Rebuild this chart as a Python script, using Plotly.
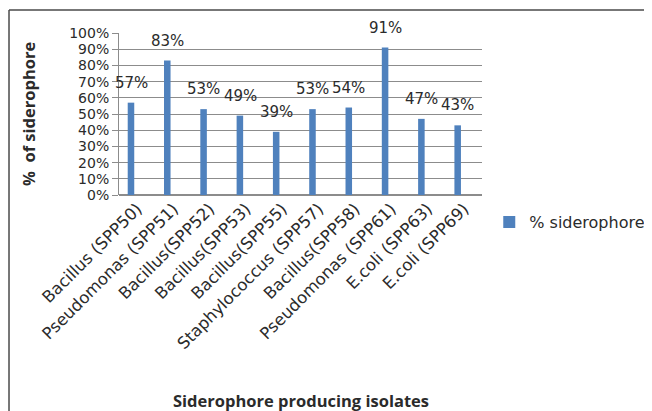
import plotly.graph_objects as go

categories = ["Bacillus (SPP50)", "Pseudomonas (SPP51)", "Bacillus(SPP52)", "Bacillus(SPP53)",
              "Bacillus(SPP55)", "Staphylococcus (SPP57)", "Bacillus(SPP58)", "Pseudomonas (SPP61)",
              "E.coli (SPP63)", "E.coli (SPP69)"]
siderophore = [0.57, 0.83, 0.53, 0.49, 0.39, 0.53, 0.54, 0.91, 0.47, 0.43]
series_name = "% siderophore"

FONT = "DejaVu Sans, sans-serif"
TFONT = "Open Sans, sans-serif"
TXT = "#2b2b2b"
BAR = "#4F81BD"
GRID = "#8c8c8c"

fig = go.Figure()
fig.add_trace(go.Bar(
    x=categories, y=siderophore, name=series_name,
    marker=dict(color=BAR, line=dict(width=0)),
    width=0.18, offset=-0.26,
    showlegend=True,
))

annotations = []
for c, v in zip(categories, siderophore):
    annotations.append(dict(
        x=c, y=v, xref="x", yref="y", text=f"{round(v*100)}%",
        showarrow=False, yanchor="middle", xanchor="center",
        yshift=20, xshift=-6, font=dict(family=FONT, size=15, color=TXT)))

annotations.append(dict(
    x=0, y=0.5, xref="paper", yref="paper", text="<b>%\u00a0 of siderophore</b>",
    textangle=-90, showarrow=False, xanchor="center", yanchor="middle",
    xshift=-91, font=dict(family=TFONT, size=16.5, color=TXT)))
annotations.append(dict(
    x=0.501, y=0, xref="paper", yref="paper", text="<b>Siderophore producing isolates</b>",
    showarrow=False, xanchor="center", yanchor="middle",
    yshift=-205, font=dict(family=TFONT, size=16.5, color=TXT)))

shapes = [
    dict(type="line", xref="paper", yref="paper", x0=-0.303, x1=-0.303, y0=1.142, y1=-1.4,
         line=dict(color="#4a4a4a", width=1.5)),
    dict(type="line", xref="paper", yref="paper", x0=-0.303, x1=1.5, y0=1.142, y1=1.142,
         line=dict(color="#4a4a4a", width=1.5)),
]

# page body has an 8px margin, so the figure is sized/offset to compensate
fig.update_layout(
    width=644, height=403,
    margin=dict(l=111, r=170, t=25, b=216, autoexpand=False),
    paper_bgcolor="white", plot_bgcolor="white",
    font=dict(family=FONT, size=15, color=TXT),
    annotations=annotations, shapes=shapes,
    legend=dict(x=1.02, y=0.5 - (222 - 114) / 162, xanchor="left", yanchor="middle",
                font=dict(family=FONT, size=16, color=TXT), bgcolor="rgba(0,0,0,0)"),
    xaxis=dict(range=[-0.5, 9.5], tickangle=-45, showgrid=False, showline=False, ticks="",
               automargin=False, tickfont=dict(family=FONT, size=16.5, color=TXT)),
    yaxis=dict(range=[0, 1], dtick=0.1, tickformat=".0%", showgrid=True, gridcolor=GRID,
               gridwidth=1, showline=True, linecolor=GRID, linewidth=1, ticks="outside",
               ticklen=6, tickcolor=GRID, zeroline=True, zerolinecolor=GRID, automargin=False,
               tickfont=dict(family=FONT, size=14, color=TXT)),
)

fig.write_html("out.html")
